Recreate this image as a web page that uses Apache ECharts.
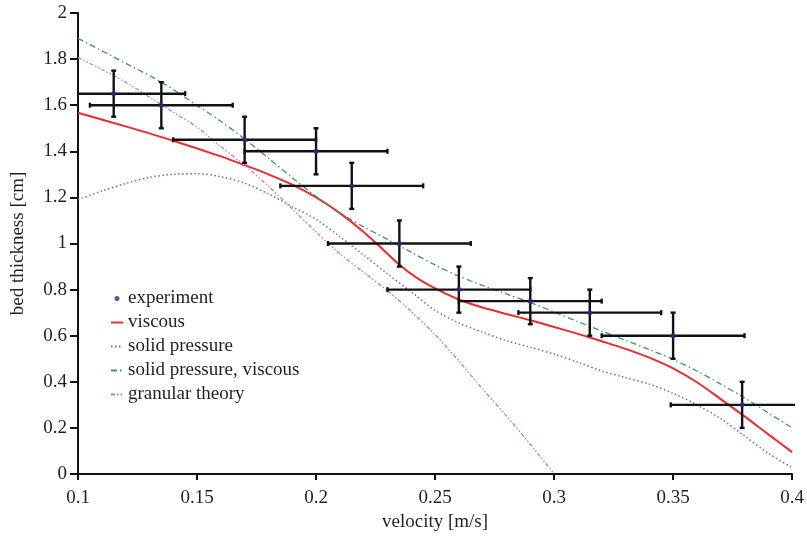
<!DOCTYPE html>
<html>
<head>
<meta charset="utf-8">
<script src="https://cdn.jsdelivr.net/npm/echarts@6/dist/echarts.min.js"></script>
<style>
  html, body { margin: 0; padding: 0; background: #fff; }
  #chart { width: 807px; height: 537px; }
</style>
</head>
<body>
<div id="chart"></div>
<script>
// Measured bed thickness with uncertainty in velocity and thickness
const expVelocity  = [0.115, 0.135, 0.17, 0.2, 0.215, 0.235, 0.26, 0.29, 0.315, 0.35, 0.379];
const expThickness = [1.65, 1.6, 1.45, 1.4, 1.25, 1.0, 0.8, 0.75, 0.7, 0.6, 0.3];
const expVelErr    = [0.03, 0.03, 0.03, 0.03, 0.03, 0.03, 0.03, 0.03, 0.03, 0.03, 0.03];
const expThickErr  = [0.1, 0.1, 0.1, 0.1, 0.1, 0.1, 0.1, 0.1, 0.1, 0.1, 0.1];

// Model predictions: [velocity, bed thickness]
const viscous = [
  [0.10, 1.567], [0.12, 1.508], [0.14, 1.446], [0.16, 1.378], [0.17, 1.34],
  [0.18, 1.30], [0.19, 1.255], [0.20, 1.20], [0.21, 1.132], [0.22, 1.05],
  [0.228, 0.975], [0.235, 0.908], [0.2425, 0.85], [0.25, 0.805], [0.26, 0.757],
  [0.27, 0.722], [0.28, 0.694], [0.29, 0.667], [0.30, 0.638], [0.31, 0.608],
  [0.32, 0.576], [0.33, 0.543], [0.34, 0.505], [0.35, 0.458], [0.36, 0.398],
  [0.37, 0.325], [0.38, 0.25], [0.39, 0.172], [0.40, 0.095]
];
const solidPressure = [
  [0.10, 1.19], [0.11, 1.228], [0.12, 1.26], [0.13, 1.287], [0.14, 1.30],
  [0.15, 1.303], [0.16, 1.29], [0.17, 1.262], [0.18, 1.215], [0.19, 1.16],
  [0.20, 1.105], [0.21, 1.03], [0.22, 0.95], [0.23, 0.868], [0.24, 0.79],
  [0.25, 0.71], [0.26, 0.655], [0.27, 0.615], [0.28, 0.578], [0.29, 0.55],
  [0.30, 0.52], [0.31, 0.485], [0.32, 0.447], [0.33, 0.418], [0.34, 0.39],
  [0.35, 0.35], [0.36, 0.30], [0.37, 0.24], [0.38, 0.165], [0.39, 0.09], [0.40, 0.027]
];
const solidPressureViscous = [
  [0.10, 1.89], [0.12, 1.782], [0.135, 1.70], [0.15, 1.599], [0.16, 1.53],
  [0.17, 1.453], [0.18, 1.37], [0.19, 1.285], [0.20, 1.205], [0.21, 1.133],
  [0.22, 1.072], [0.23, 1.018], [0.24, 0.962], [0.25, 0.907], [0.26, 0.858],
  [0.27, 0.818], [0.28, 0.781], [0.29, 0.744], [0.30, 0.703], [0.31, 0.661],
  [0.32, 0.62], [0.33, 0.58], [0.34, 0.54], [0.35, 0.497], [0.36, 0.447],
  [0.37, 0.39], [0.38, 0.33], [0.39, 0.265], [0.40, 0.20]
];
const granularTheory = [
  [0.10, 1.807], [0.11, 1.755], [0.12, 1.70], [0.13, 1.635], [0.14, 1.57],
  [0.15, 1.505], [0.16, 1.42], [0.17, 1.34], [0.18, 1.248], [0.19, 1.15],
  [0.20, 1.05], [0.21, 0.955], [0.22, 0.875], [0.23, 0.795], [0.24, 0.705],
  [0.25, 0.605], [0.26, 0.49], [0.27, 0.368], [0.28, 0.252], [0.29, 0.129], [0.30, 0.0]
];

const legendNames = ['experiment', 'viscous', 'solid pressure', 'solid pressure, viscous', 'granular theory'];

const FONT = 'Liberation Serif, Times New Roman, serif';
const TEXT = '#231f20';

const experimentPoints = expVelocity.map((v, i) => [v, expThickness[i]]);
const errorBarData = expVelocity.map((v, i) => [v, expThickness[i], expVelErr[i], expThickErr[i]]);

// Cross-shaped error bars with small end caps, clipped to the plotting area
function renderErrorBar(params, api) {
  const cs = params.coordSys;
  const x = api.value(0), y = api.value(1), ex = api.value(2), ey = api.value(3);
  const c = api.coord([x, y]);
  let left = api.coord([x - ex, y])[0];
  let right = api.coord([x + ex, y])[0];
  const top = api.coord([x, y + ey])[1];
  const bottom = api.coord([x, y - ey])[1];
  const capL = left >= cs.x, capR = right <= cs.x + cs.width;
  left = Math.max(left, cs.x);
  right = Math.min(right, cs.x + cs.width + 3);
  const style = { stroke: '#111', lineWidth: 2.4 };
  const cap = 2.5;
  const kids = [
    { type: 'line', shape: { x1: left, y1: c[1], x2: right, y2: c[1] }, style },
    { type: 'line', shape: { x1: c[0], y1: top, x2: c[0], y2: bottom }, style },
    { type: 'line', shape: { x1: c[0] - cap, y1: top, x2: c[0] + cap, y2: top }, style },
    { type: 'line', shape: { x1: c[0] - cap, y1: bottom, x2: c[0] + cap, y2: bottom }, style }
  ];
  if (capL) kids.push({ type: 'line', shape: { x1: left, y1: c[1] - cap, x2: left, y2: c[1] + cap }, style });
  if (capR) kids.push({ type: 'line', shape: { x1: right, y1: c[1] - cap, x2: right, y2: c[1] + cap }, style });
  return { type: 'group', children: kids };
}

function modelLine(name, data, color, width, dash) {
  return {
    name, type: 'line', data,
    showSymbol: false, symbol: 'none',
    smooth: 0.3,
    lineStyle: { color, width, type: dash },
    itemStyle: { color },
    z: 2
  };
}

// Legend entries: the model curves show only their line sample
const legendData = legendNames.map(n => n === 'experiment'
  ? { name: n }
  : { name: n, itemStyle: { opacity: 0 } });

const chart = echarts.init(document.getElementById('chart'), null, { renderer: 'canvas' });
chart.setOption({
  backgroundColor: '#ffffff',
  animation: false,
  grid: { left: 78, right: 14, top: 13, bottom: 63, containLabel: false },
  legend: {
    data: legendData,
    orient: 'vertical',
    left: 110,
    top: 289,
    padding: 0,
    itemWidth: 12,
    itemHeight: 5,
    itemGap: 5,
    textStyle: { fontFamily: FONT, fontSize: 19, color: TEXT, lineHeight: 19 },
    selectedMode: false
  },
  xAxis: {
    type: 'value',
    min: 0.1, max: 0.4, interval: 0.05,
    name: 'velocity [m/s]',
    nameLocation: 'middle',
    nameGap: 37,
    nameTextStyle: { fontFamily: FONT, fontSize: 19, color: TEXT },
    axisLine: { lineStyle: { color: '#111', width: 2 } },
    axisTick: { show: true, inside: false, length: 6, lineStyle: { color: '#111', width: 2 } },
    axisLabel: {
      fontFamily: FONT, fontSize: 19, color: TEXT, margin: 15,
      formatter: v => String(+v.toFixed(2))
    },
    splitLine: { show: false }
  },
  yAxis: {
    type: 'value',
    min: 0, max: 2, interval: 0.2,
    name: 'bed thickness [cm]',
    nameLocation: 'middle',
    nameGap: 50,
    nameTextStyle: { fontFamily: FONT, fontSize: 19, color: TEXT },
    axisLine: { show: true, lineStyle: { color: '#111', width: 2 } },
    axisTick: { show: true, inside: false, length: 8, lineStyle: { color: '#111', width: 2 } },
    axisLabel: {
      fontFamily: FONT, fontSize: 19, color: TEXT, margin: 11,
      formatter: v => String(+v.toFixed(1))
    },
    splitLine: { show: false }
  },
  series: [
    modelLine('viscous', viscous, '#ee2a2a', 2, 'solid'),
    modelLine('solid pressure', solidPressure, '#5b6fd2', 1.5, [1.5, 2.5]),
    modelLine('solid pressure, viscous', solidPressureViscous, '#3a9868', 1.3, [6, 3, 1.5, 3]),
    modelLine('granular theory', granularTheory, '#cc72cc', 1.3, [4, 2, 1.5, 2, 1.5, 2]),
    {
      name: 'experiment error',
      type: 'custom',
      renderItem: renderErrorBar,
      data: errorBarData,
      encode: { x: 0, y: 1 },
      z: 3,
      silent: true
    },
    {
      name: 'experiment',
      type: 'scatter',
      data: experimentPoints,
      symbol: 'circle',
      symbolSize: 5,
      itemStyle: { color: '#2b2e83' },
      z: 4
    }
  ]
});
</script>
</body>
</html>
